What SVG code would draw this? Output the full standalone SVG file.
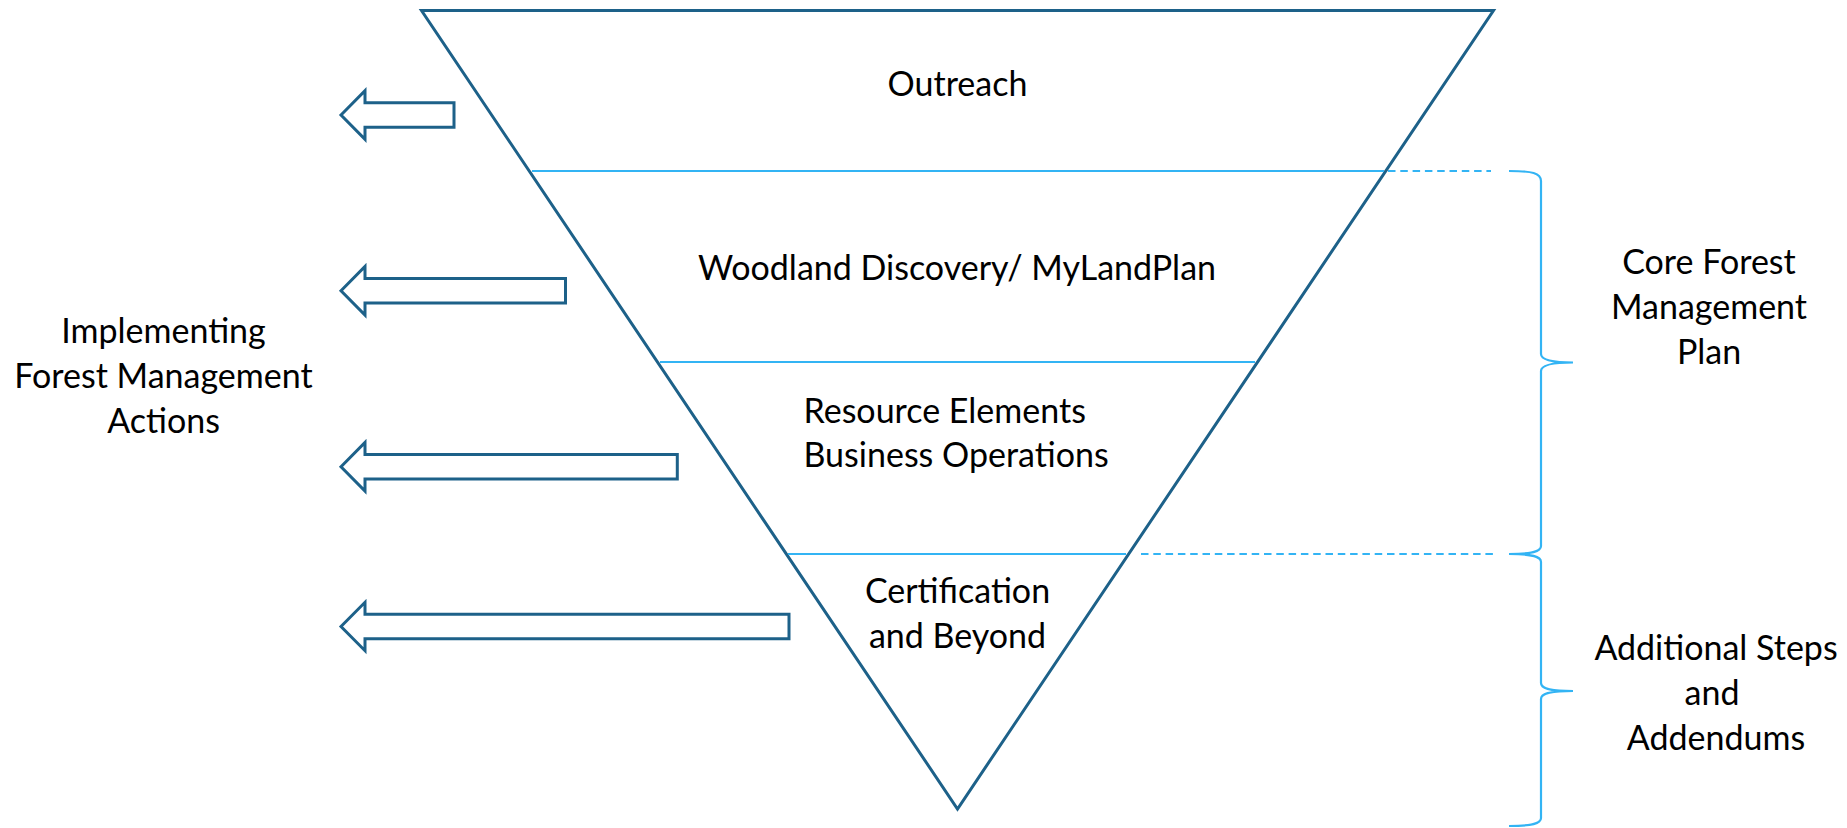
<svg xmlns="http://www.w3.org/2000/svg" width="1847" height="828" viewBox="0 0 1847 828">
<defs>
<style>
.tri{fill:none;stroke:#1d6189;stroke-width:3;stroke-linejoin:miter}
.arrow{fill:#ffffff;stroke:#1d6189;stroke-width:3;stroke-linejoin:miter}
.div{stroke:#33b4f4;stroke-width:2.2;fill:none}
.dash{stroke:#33b4f4;stroke-width:2.2;fill:none;stroke-dasharray:7.5 4.8}
.brace{stroke:#33b4f4;stroke-width:2.2;fill:none}
text{font-family:"Lato","Liberation Sans",sans-serif;font-size:34px;fill:#000000}
.c{text-anchor:middle}
</style>
</defs>
<rect width="1847" height="828" fill="#ffffff"/>
<g id="funnel">
<polygon class="tri" points="421.5,10.5 1493.5,10.5 957.5,809"/>
</g>
<g id="connectors">
<line class="div" x1="532" y1="171" x2="1384" y2="171"/>
<line class="dash" x1="1388" y1="171" x2="1491" y2="171"/>
<line class="div" x1="660" y1="362" x2="1255" y2="362"/>
<line class="div" x1="788" y1="554" x2="1126" y2="554"/>
<line class="dash" x1="1141" y1="554" x2="1493" y2="554"/>
<path class="brace" d="M1509,171 C1532,171 1541,173 1541,181 L1541,354 C1541,359 1548,362.5 1573,362.5 C1548,362.5 1541,366 1541,371 L1541,546 C1541,551.5 1532,554 1509,554"/>
<path class="brace" d="M1509,554 C1532,554 1541,556.5 1541,562 L1541,683 C1541,688 1548,691 1573,691 C1548,691 1541,694 1541,699 L1541,818 C1541,823.5 1532,826 1509,826"/>
<polygon class="arrow" points="341,115 365,90.7 365,102.7 454,102.7 454,127.3 365,127.3 365,139.3"/>
<polygon class="arrow" points="341,290.7 365,266.5 365,278.5 565.5,278.5 565.5,303 365,303 365,315"/>
<polygon class="arrow" points="341,466.7 365,442.5 365,454.5 677.3,454.5 677.3,479 365,479 365,491"/>
<polygon class="arrow" points="341,626.5 365,602.3 365,614.3 789,614.3 789,638.7 365,638.7 365,650.7"/>
</g>
<g id="outreach">
<text class="c" x="957.5" y="96">Outreach</text>
</g>
<g id="woodland">
<text class="c" x="957" y="280">Woodland Discovery/ MyLandPlan</text>
</g>
<g id="resource">
<text x="803.5" y="423">Resource Elements</text>
<text x="803.5" y="467">Business Operations</text>
</g>
<g id="certification">
<text class="c" x="957.5" y="602.5">Certification</text>
<text class="c" x="957.5" y="647.5">and Beyond</text>
</g>
<g id="implementing">
<text class="c" x="163.5" y="342.5">Implementing</text>
<text class="c" x="163.5" y="387.5">Forest Management</text>
<text class="c" x="163.5" y="432.5">Actions</text>
</g>
<g id="core">
<text class="c" x="1709" y="274">Core Forest</text>
<text class="c" x="1709" y="319">Management</text>
<text class="c" x="1709" y="363.5">Plan</text>
</g>
<g id="additional">
<text class="c" x="1716" y="659.5">Additional Steps</text>
<text class="c" x="1712" y="704.5">and</text>
<text class="c" x="1716" y="749.5">Addendums</text>
</g>
</svg>
